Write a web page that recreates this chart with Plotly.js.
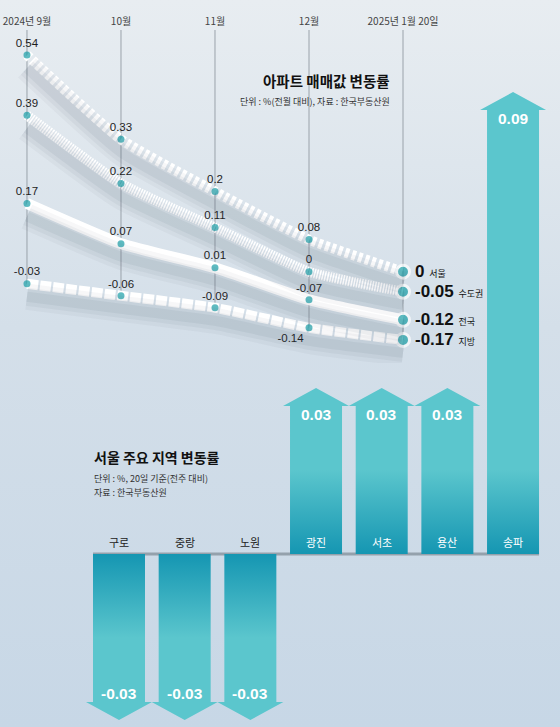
<!DOCTYPE html>
<html>
<head>
<meta charset="utf-8">
<script src="https://cdn.plot.ly/plotly-3.0.1.min.js"></script>
<style>
  html, body { margin: 0; padding: 0; }
  #chart { width: 560px; height: 727px;
    background: linear-gradient(to bottom, #e8edf1 0%, #d4dfe9 45%, #c7d7e6 100%); }
</style>
</head>
<body>
<div id="chart"></div>
<script>
// ---------- data ----------
const months = ['2024년 9월', '10월', '11월', '12월', '2025년 1월 20일'];
const seriesNames = ['서울', '수도권', '전국', '지방'];
const seoul  = [0.54, 0.33, 0.2, 0.08, 0];
const metro  = [0.39, 0.22, 0.11, 0, -0.05];
const nation = [0.17, 0.07, 0.01, -0.07, -0.12];
const local  = [-0.03, -0.06, -0.09, -0.14, -0.17];

const districts = ['구로', '중랑', '노원', '광진', '서초', '용산', '송파'];
const districtChange = [-0.03, -0.03, -0.03, 0.03, 0.03, 0.03, 0.09];

// ---------- styling / geometry ----------
const NUM_FONT = '"Liberation Sans Narrow", "Liberation Sans", "Noto Sans CJK KR", sans-serif';
const KR_FONT = '"Noto Sans CJK KR", "Noto Sans", sans-serif';
const W = 560, H = 727;
const yTop = [-0.1952, 0.6026];         // range of the line chart y axis
const xTop = [-0.287, 5.670];
const xBot = [-1.812, 6.715];
const yBot = [-0.03507, 0.11231];
const xPxPerCat = W / (xBot[1] - xBot[0]);
const yPxPerUnit = H / (yBot[1] - yBot[0]);
const shadowShift = 13;                 // px the shadow axis is moved down

const allSeries = [seoul, metro, nation, local];
const lineStyles = [
  { width: 10, dash: '4px,3px' },
  { width: 10, dash: '1.5px,1.2px' },
  { width: 11, dash: 'solid' },
  { width: 10, dash: '11px,2px' }
];
const xIdx = months.map((m, i) => i);

const traces = [];

// soft shadows under the lines (same data on a slightly lowered axis)
allSeries.forEach((s) => {
  [[26, 0.045], [18, 0.06], [10, 0.07]].forEach(([w, a]) => {
    traces.push({
      type: 'scatter', mode: 'lines', x: xIdx, y: s, xaxis: 'x', yaxis: 'y3',
      line: { color: 'rgba(60,80,100,' + a + ')', width: w, shape: 'spline', smoothing: 0.5 },
      hoverinfo: 'skip', showlegend: false
    });
  });
});

// vertical guide lines (from top to lowest point of each column)
xIdx.forEach(i => {
  const lo = Math.min(...allSeries.map(s => s[i]));
  traces.push({
    type: 'scatter', mode: 'lines', x: [i, i], y: [yTop[1], lo],
    xaxis: 'x', yaxis: 'y', line: { color: '#9aa2aa', width: 1 },
    hoverinfo: 'skip', showlegend: false
  });
});

// the lines
allSeries.forEach((s, k) => {
  const pos = s.map((v, i) => (k === 3 && i === 3) ? 'bottom left' : 'top center');
  traces.push({
    type: 'scatter', mode: 'lines+markers+text', name: seriesNames[k],
    x: xIdx, y: s, xaxis: 'x', yaxis: 'y',
    line: { color: '#ffffff', width: lineStyles[k].width, dash: lineStyles[k].dash,
            shape: 'spline', smoothing: 0.5 },
    marker: { color: '#1a9ea6', size: s.map((v, i) => i === s.length - 1 ? 13 : 7),
              line: { color: '#ffffff', width: s.map((v, i) => i === s.length - 1 ? 3 : 0) } },
    text: s.map((v, i) => i === s.length - 1 ? '' : String(v)),
    textposition: pos,
    textfont: { family: NUM_FONT, size: 11.5, color: '#1e1e1e' },
    cliponaxis: false, hoverinfo: 'skip', showlegend: false
  });
});

// arrows for district changes
const bodyHalf = 26 / xPxPerCat, headHalf = 33 / xPxPerCat, headH = 18 / yPxPerUnit;
const gradSpan = 0.017;
const dark = '#1596b2', light = '#5bc6cd';
districtChange.forEach((v, i) => {
  const hh = v > 0 ? headH : -headH;
  traces.push({
    type: 'scatter', mode: 'lines', xaxis: 'x2', yaxis: 'y2', name: districts[i],
    x: [i - bodyHalf, i - bodyHalf, i - headHalf, i, i + headHalf, i + bodyHalf, i + bodyHalf, i - bodyHalf],
    y: [0, v, v, v + hh, v, v, 0, 0],
    fill: 'toself', line: { width: 0, color: 'rgba(0,0,0,0)' },
    fillcolor: light,
    fillgradient: v > 0
      ? { type: 'vertical', colorscale: [[0, dark], [1, light]], start: 0, stop: gradSpan }
      : { type: 'vertical', colorscale: [[0, light], [1, dark]], start: -gradSpan, stop: 0 },
    hoverinfo: 'skip', showlegend: false
  });
});

// ---------- annotations ----------
const annotations = [];
const px = (x) => x / W, py = (y) => 1 - y / H;

// final values on the right
allSeries.forEach((s, k) => {
  const v = s[s.length - 1];
  annotations.push({
    xref: 'x', yref: 'y', x: s.length - 1, y: v, xanchor: 'left', yanchor: 'middle',
    xshift: 10, showarrow: false,
    text: '<b>' + String(v) + '</b> <span style="font-size:9px;font-family:Noto Sans CJK KR">' + seriesNames[k] + '</span>',
    font: { family: NUM_FONT, size: 17, color: '#111' }
  });
});

// arrow value labels and district names
districtChange.forEach((v, i) => {
  annotations.push({
    xref: 'x2', yref: 'y2', x: i, y: v, yshift: v > 0 ? -8 : 8,
    xanchor: 'center', yanchor: 'middle', showarrow: false,
    text: '<b>' + v.toFixed(2) + '</b>',
    font: { family: NUM_FONT, size: 15.5, color: '#ffffff' }
  });
  annotations.push({
    xref: 'x2', yref: 'y2', x: i, y: 0, yshift: 12,
    xanchor: 'center', yanchor: 'middle', showarrow: false,
    text: districts[i],
    font: { family: KR_FONT, size: 11, color: v > 0 ? '#ffffff' : '#222222' }
  });
});

// titles
annotations.push(
  { xref: 'paper', yref: 'paper', x: px(392), y: py(80), xanchor: 'right', yanchor: 'middle',
    showarrow: false, text: '<b>아파트 매매값 변동률</b>',
    font: { family: KR_FONT, size: 14.5, color: '#111' } },
  { xref: 'paper', yref: 'paper', x: px(392), y: py(101), xanchor: 'right', yanchor: 'middle',
    showarrow: false, text: '단위 : %(전월 대비), 자료 : 한국부동산원',
    font: { family: KR_FONT, size: 9, color: '#333' } },
  { xref: 'paper', yref: 'paper', x: px(92), y: py(457), xanchor: 'left', yanchor: 'middle',
    showarrow: false, text: '<b>서울 주요 지역 변동률</b>',
    font: { family: KR_FONT, size: 14, color: '#111' } },
  { xref: 'paper', yref: 'paper', x: px(92), y: py(478), xanchor: 'left', yanchor: 'middle',
    showarrow: false, text: '단위 : %, 20일 기준(전주 대비)',
    font: { family: KR_FONT, size: 9, color: '#333' } },
  { xref: 'paper', yref: 'paper', x: px(92), y: py(492), xanchor: 'left', yanchor: 'middle',
    showarrow: false, text: '자료 : 한국부동산원',
    font: { family: KR_FONT, size: 9, color: '#333' } }
);

const layout = {
  width: W, height: H,
  margin: { l: 0, r: 0, t: 0, b: 0, pad: 0 },
  paper_bgcolor: 'rgba(0,0,0,0)', plot_bgcolor: 'rgba(0,0,0,0)',
  showlegend: false,
  xaxis: { domain: [0, 1], range: xTop, side: 'top', anchor: 'y',
           tickmode: 'array', tickvals: xIdx, ticktext: months,
           tickfont: { family: KR_FONT, size: 10, color: '#444' },
           showgrid: false, zeroline: false, showline: false, ticks: '', ticklabelstandoff: 2,
           fixedrange: true },
  yaxis: { domain: [1 - 350 / H, 1 - 30 / H], range: yTop, visible: false, anchor: 'x', fixedrange: true },
  yaxis3: { domain: [1 - (350 + shadowShift) / H, 1 - (30 + shadowShift) / H], range: yTop,
            visible: false, anchor: 'x', fixedrange: true },
  xaxis2: { domain: [0, 1], range: xBot, visible: false, anchor: 'y2', fixedrange: true },
  yaxis2: { domain: [0, 1], range: yBot, visible: false, anchor: 'x2', fixedrange: true },
  shapes: [{
    type: 'line', layer: 'below', xref: 'x2', yref: 'y2',
    x0: -bodyHalf, x1: districts.length - 1 + bodyHalf, y0: 0, y1: 0,
    line: { color: 'rgba(80,90,100,0.45)', width: 3 }
  }],
  annotations: annotations
};

Plotly.newPlot('chart', traces, layout, { staticPlot: true, displayModeBar: false });
</script>
</body>
</html>
